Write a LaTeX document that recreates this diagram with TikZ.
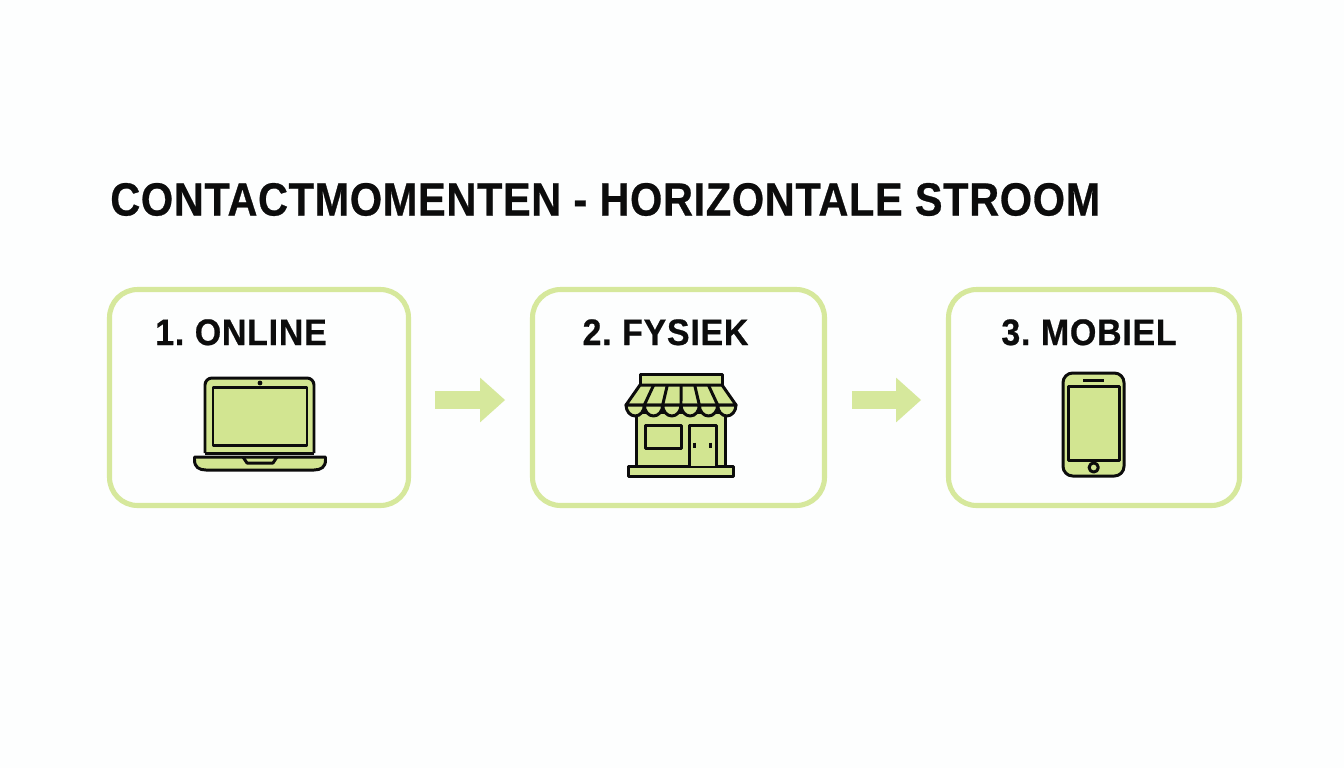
\documentclass[tikz,border=0pt]{standalone}
\usepackage{fontspec}
\setmainfont{Liberation Sans}
\newfontfamily\zwaar[FakeStretch=0.89, FakeBold=0.6, LetterSpace=1.5]{Liberation Sans Bold}
\newfontfamily\kopzwaar[FakeStretch=0.92, FakeBold=0.6, LetterSpace=2, WordSpace=0.7]{Liberation Sans Bold}
\usetikzlibrary{arrows.meta, positioning}
\definecolor{groen}{HTML}{D6E89C}
\definecolor{vulling}{HTML}{D2E591}
\definecolor{inkt}{HTML}{0C0C0C}
\definecolor{achter}{HTML}{FDFEFE}
\tikzset{
	kaart/.style={draw=groen, line width=2.9pt, rounded corners=0.56cm, outer sep=0pt, minimum height=4.32cm},
	kop/.style={font=\kopzwaar\fontsize{21}{24}\selectfont, anchor=base, text=inkt, inner sep=0pt},
	titel/.style={font=\zwaar\fontsize{26.5}{30}\selectfont, anchor=base west, text=inkt, inner sep=0pt},
	pijl/.style={draw=groen, line width=9.7pt, -{Triangle[length=0.5cm, width=0.86cm]}},
	icoon/.style={draw=inkt, fill=vulling, line width=1.7pt, line join=round},
	streep/.style={draw=inkt, line width=1.7pt},
}
\begin{document}
\begin{tikzpicture}[x=0.02cm, y=-0.02cm]
	\fill[achter] (0, 0) rectangle (1344, 768);
	\useasboundingbox (0, 0) rectangle (1344, 768);

	\node[titel] (title) 	at (110, 215.5) 	{CONTACTMOMENTEN - HORIZONTALE STROOM};

	\node[kaart, minimum width=5.98cm] (online) 	at (259, 397.5) 	{};
	\node[kaart, minimum width=5.84cm] (fysiek) 	at (678.5, 397.5) 	{};
	\node[kaart, minimum width=5.82cm] (mobiel) 	at (1094, 397.5) 	{};

	\node[kop] (lonline) 	at (241, 345) 	{1. ONLINE};
	\node[kop] (lfysiek) 	at (665.5, 345) 	{2. FYSIEK};
	\node[kop] (lmobiel) 	at (1089, 345) 	{3. MOBIEL};

	\draw[pijl, shorten <=15pt, shorten >=15.6pt] ([yshift=-2.5*0.02cm]online.east) to ([yshift=-2.5*0.02cm]fysiek.west);
	\draw[pijl, shorten <=15.6pt, shorten >=15.6pt] ([yshift=-2.5*0.02cm]fysiek.east) to ([yshift=-2.5*0.02cm]mobiel.west);

	%laptop
	\draw[icoon, rounded corners=4pt] (205, 453) -- (205, 378) -- (314, 378) -- (314, 453);
	\draw[icoon] (205, 453) -- (314, 453);
	\draw[icoon] (213, 387) rectangle (307, 445);
	\fill[inkt] (260, 383) circle (2.4);
	\draw[icoon] (194.5, 457) -- (325.5, 457) -- (325.5, 460) .. controls (325.5, 467) and (321, 470) .. (314, 470) -- (206, 470) .. controls (199, 470) and (194.5, 467) .. (194.5, 460) -- cycle;
	\draw[icoon, fill=none] (243, 457) -- (247, 463) -- (273, 463) -- (277, 457);

	%winkel
	\draw[icoon] (636, 412) rectangle (725, 466);
	\draw[icoon] (628, 466) rectangle (733, 476);
	\draw[icoon] (645, 425) rectangle (681, 448);
	\draw[icoon] (689, 466) -- (689, 425) -- (716, 425) -- (716, 466);
	\draw[streep] (694.5, 442.5) -- (694.5, 448);
	\draw[streep] (710, 442.5) -- (710, 448);
	\draw[icoon] (640, 374) rectangle (722, 385);
	\draw[icoon] (640, 385) -- (722, 385) -- (736, 405) -- (626, 405) -- cycle;
	\foreach \i in {0,...,5} {
		\draw[icoon] (626+18.33*\i, 405) arc[start angle=180, end angle=360, x radius=9.17, y radius=-11] -- cycle;
	}
	\foreach \i in {1,...,5} {
		\draw[streep] (640+13.67*\i, 385) -- (626+18.33*\i, 405);
	}

	%telefoon
	\draw[icoon, rounded corners=5.5pt] (1063, 373) rectangle (1124, 476);
	\draw[icoon] (1068, 386) rectangle (1119, 460);
	\draw[streep] (1083, 380) -- (1104, 380);
	\draw[icoon, fill=none] (1093.7, 467.5) circle (4.6);
\end{tikzpicture}
\end{document}
